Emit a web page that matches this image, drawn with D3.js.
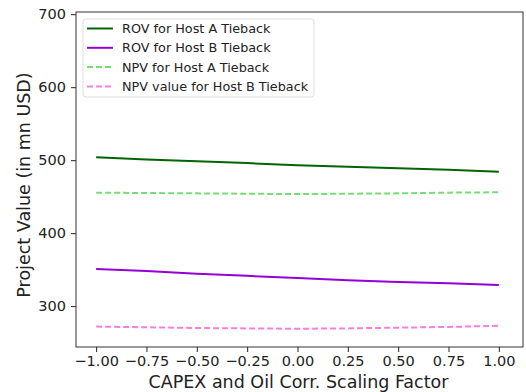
<!DOCTYPE html>
<html>
<head>
<meta charset="utf-8">
<script src="https://cdn.jsdelivr.net/npm/d3@7"></script>
<style>
  body { margin: 0; background: #fff; }
  text { font-family: "DejaVu Sans", sans-serif; fill: #222; }
</style>
</head>
<body>
<svg id="chart" width="526" height="392"></svg>
<script>
// scaling factor steps
var factors = [-1.00, -0.75, -0.50, -0.25, 0.00, 0.25, 0.50, 0.75, 1.00];

// values (mn USD)
var rovHostA = [504, 501, 498.5, 496, 493, 491, 489, 487, 484];
var rovHostB = [351, 348, 344.5, 341.5, 338.5, 335.5, 333, 331.5, 329];
var npvHostA = [455.5, 455, 454.5, 454, 453.5, 454, 454.5, 455.5, 456];
var npvHostB = [272, 271, 270, 269.5, 269, 269.5, 270.5, 271.5, 273];

var xTicks = [-1.00, -0.75, -0.50, -0.25, 0.00, 0.25, 0.50, 0.75, 1.00];
var yTicks = [300, 400, 500, 600, 700];

var seriesNames = ["ROV for Host A Tieback", "ROV for Host B Tieback",
                   "NPV for Host A Tieback", "NPV value for Host B Tieback"];

var series = [
    {name: seriesNames[0], values: rovHostA, color: "#006400", dash: null},
    {name: seriesNames[1], values: rovHostB, color: "#9400d3", dash: null},
    {name: seriesNames[2], values: npvHostA, color: "#74de74", dash: "6,3"},
    {name: seriesNames[3], values: npvHostB, color: "#f57ee0", dash: "6,3"}
];

// plot box
var margin = {top: 12, right: 3, bottom: 45, left: 76},
    width = 526 - margin.left - margin.right,
    height = 392 - margin.top - margin.bottom;

var svg = d3.select("#chart"),
    g = svg.append("g")
        .attr("transform", "translate(" + margin.left + "," + margin.top + ")");

var x = d3.scaleLinear().domain([-1.1, 1.12]).range([0, width]);
var y = d3.scaleLinear().domain([244, 703]).range([height, 0]);

// axes
var xAxis = g.append("g")
    .attr("transform", "translate(0," + height + ")")
    .call(d3.axisBottom(x).tickValues(xTicks).tickSize(5).tickPadding(4)
        .tickFormat(function(d) { return d3.format(".2f")(d).replace("-", "\u2212"); }));

var yAxis = g.append("g")
    .call(d3.axisLeft(y).tickValues(yTicks).tickSize(5).tickPadding(5));

[xAxis, yAxis].forEach(function(a) {
    a.select(".domain").remove();
    a.selectAll("text").style("font-size", "14.5px").attr("fill", "#222");
    a.selectAll("line").attr("stroke", "#222");
});

// frame
g.append("rect")
    .attr("width", width)
    .attr("height", height)
    .attr("fill", "none")
    .attr("stroke", "#333")
    .attr("stroke-width", 1);

// lines
var line = d3.line()
    .x(function(d, i) { return x(factors[i]); })
    .y(function(d) { return y(d); });

g.selectAll(".series")
    .data(series)
    .enter().append("path")
    .attr("class", "series")
    .attr("d", function(d) { return line(d.values); })
    .attr("fill", "none")
    .attr("stroke", function(d) { return d.color; })
    .attr("stroke-width", 2)
    .attr("stroke-dasharray", function(d) { return d.dash; });

// legend
var legend = g.append("g").attr("transform", "translate(7,7)");
legend.append("rect")
    .attr("width", 231)
    .attr("height", 78)
    .attr("rx", 3)
    .attr("fill", "#fff")
    .attr("stroke", "#ddd");

var item = legend.selectAll(".item")
    .data(series)
    .enter().append("g")
    .attr("transform", function(d, i) { return "translate(0," + (9.5 + i * 19.3) + ")"; });

item.append("line")
    .attr("x1", 4).attr("x2", 30)
    .attr("stroke", function(d) { return d.color; })
    .attr("stroke-width", 2)
    .attr("stroke-dasharray", function(d) { return d.dash; });

item.append("text")
    .attr("x", 39)
    .attr("dy", "0.35em")
    .style("font-size", "12.8px")
    .text(function(d) { return d.name; });

// axis titles
svg.append("text")
    .attr("x", margin.left + width / 2 - 1)
    .attr("y", 388)
    .attr("text-anchor", "middle")
    .style("font-size", "17.5px")
    .text("CAPEX and Oil Corr. Scaling Factor");

svg.append("text")
    .attr("transform", "translate(30," + (185) + ") rotate(-90)")
    .attr("text-anchor", "middle")
    .style("font-size", "17.5px")
    .text("Project Value (in mn USD)");
</script>
</body>
</html>
